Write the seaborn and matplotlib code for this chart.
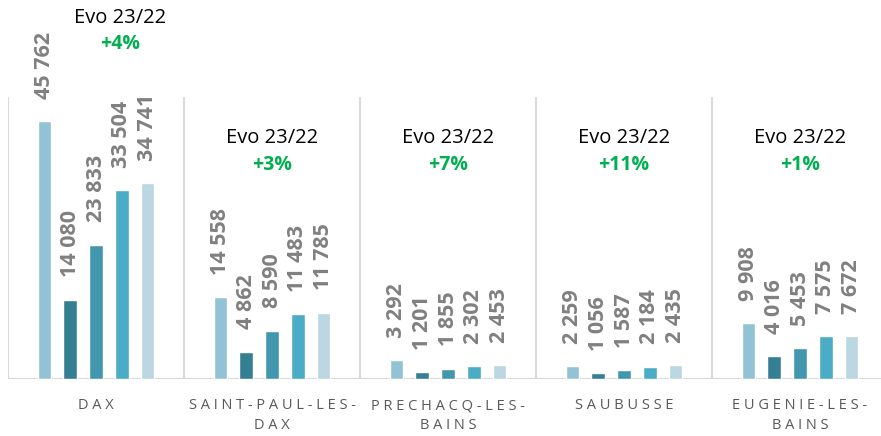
import matplotlib
matplotlib.use("Agg")
import matplotlib.pyplot as plt
import matplotlib.transforms as mtransforms
import seaborn as sns
import pandas as pd

# data
communes = ["DAX", "SAINT-PAUL-LES-DAX", "PRECHACQ-LES-BAINS", "SAUBUSSE", "EUGENIE-LES-BAINS"]
tick_labels = ["DAX", "SAINT-PAUL-LES-\nDAX", "PRECHACQ-LES-\nBAINS", "SAUBUSSE", "EUGENIE-LES-\nBAINS"]
years = ["2019", "2020", "2021", "2022", "2023"]
v2019 = [45762, 14558, 3292, 2259, 9908]
v2020 = [14080, 4862, 1201, 1056, 4016]
v2021 = [23833, 8590, 1855, 1587, 5453]
v2022 = [33504, 11483, 2302, 2184, 7575]
v2023 = [34741, 11785, 2453, 2435, 7672]
evo = ["+4%", "+3%", "+7%", "+11%", "+1%"]

colors = ["#92C3D5", "#357F93", "#4297AE", "#4BACC6", "#BAD7E2"]

rows = []
for year, vals in zip(years, [v2019, v2020, v2021, v2022, v2023]):
    for c, v in zip(communes, vals):
        rows.append({"commune": c, "year": year, "value": v})
df = pd.DataFrame(rows)

sns.set_style("white")
plt.rcParams["font.family"] = ["Open Sans", "DejaVu Sans"]

fig = plt.figure(figsize=(8.81, 4.36), dpi=100)
ax = fig.add_axes([8 / 881, 57 / 436, 873 / 881, 282 / 436])

sns.barplot(data=df, x="commune", y="value", hue="year", order=communes,
            hue_order=years, palette=colors, width=0.733, gap=0.47,
            legend=False, ax=ax, saturation=1)

ax.set_ylim(0, 50000)
ax.set_xlim(-0.5, 4.46)

# value labels
for cont in ax.containers:
    for bar in cont:
        h = bar.get_height()
        ax.annotate(f"{int(h):,}".replace(",", " "),
                    (bar.get_x() + bar.get_width() / 2, h),
                    xytext=(0, 16), textcoords="offset points",
                    rotation=90, ha="center", va="bottom",
                    fontsize=15.5, fontweight="bold", color="#808080")

# group separators
for x in [-0.5, 0.5, 1.5, 2.5, 3.5]:
    ax.axvline(x, color="#D9D9D9", lw=1.5, zorder=0)
ax.axhline(0, color="#D9D9D9", lw=1.5, zorder=0)

# Evo annotations
trans = mtransforms.blended_transform_factory(ax.transData, ax.transAxes)
for i, e in enumerate(evo):
    if i == 0:
        xe, y1, y2 = 0.136, 1.28, 1.188
    else:
        xe, y1, y2 = i, 0.855, 0.759
    ax.text(xe, y1, "Evo 23/22", transform=trans, ha="center", va="center",
            fontsize=14.5, color="black", clip_on=False)
    ax.text(xe, y2, e, transform=trans, ha="center", va="center",
            fontsize=14, fontweight="bold", color="#00B050", clip_on=False)

spaced = ["\n".join(" ".join(line) for line in t.split("\n")) for t in tick_labels]
ax.set_xticks(range(len(communes)))
ax.set_xticklabels(spaced, fontsize=10.5, color="#595959", linespacing=1.45)
ax.tick_params(axis="x", length=0, pad=14)
ax.set_xlabel("")
ax.set_ylabel("")
ax.set_yticks([])
sns.despine(ax=ax, left=True, bottom=True)

fig.savefig("out.png", dpi=100)
